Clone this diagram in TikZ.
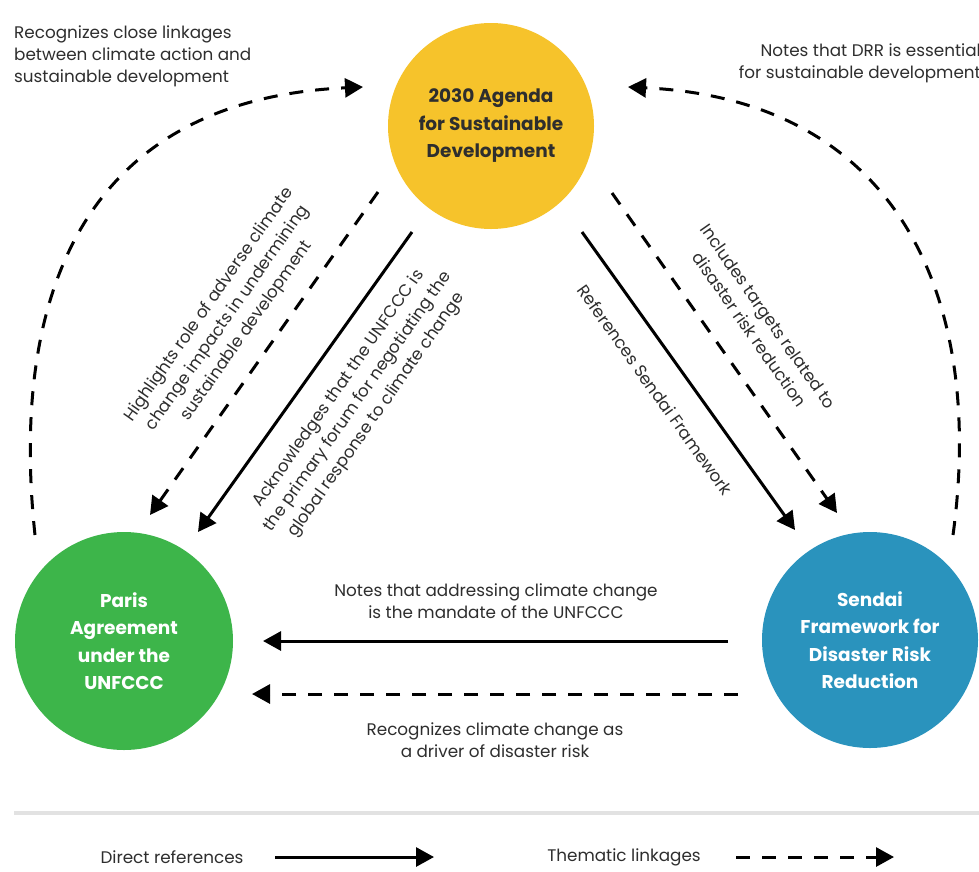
\documentclass[tikz,border=0pt]{standalone}
\usepackage{fontspec}
\setmainfont{Poppins}
\usetikzlibrary{arrows.meta}
\definecolor{agendaY}{HTML}{F6C32B}
\definecolor{parisG}{HTML}{3DB54A}
\definecolor{sendaiB}{HTML}{2A93BD}
\definecolor{txtgray}{HTML}{2E2E2E}
\definecolor{sepgray}{HTML}{E2E2E2}
\tikzset{
  circ/.style={circle, inner sep=0pt, align=center, font=\fontsize{18.5}{27.5}\selectfont\bfseries},
  lbl/.style={align=center, text=txtgray, inner sep=0pt, font=\fontsize{16.8}{21.8}\selectfont},
  rlbl/.style={lbl, font=\fontsize{16.8}{23}\selectfont},
  conn/.style={line width=3pt, -{Triangle[length=18pt,width=19pt]}},
  thematic/.style={conn, dash pattern=on 14pt off 12pt},
}
\begin{document}
\begin{tikzpicture}[x=1pt,y=-1pt]
\useasboundingbox (0,0) rectangle (979,871);
\fill[white] (0,0) rectangle (979,871);

% circles
\node[circ, fill=agendaY, text=txtgray, minimum size=206pt] (agenda) at (491,126) {2030 Agenda\\for Sustainable\\Development};
\node[circ, fill=parisG, text=white, minimum size=218pt] (paris) at (124,641) {Paris\\Agreement\\under the\\UNFCCC};
\node[circ, fill=sendaiB, text=white, minimum size=216pt] (sendai) at (870,640) {Sendai\\Framework for\\Disaster Risk\\Reduction};

% connector end points
\coordinate (arcLs) at (35,535);
\coordinate (arcLe) at (363,87);
\coordinate (arcRs) at (953,535);
\coordinate (arcRe) at (628,87);
\coordinate (dLs) at (378,192);
\coordinate (dLe) at (150,515);
\coordinate (sLs) at (412,232);
\coordinate (sLe) at (198,532);
\coordinate (sRs) at (582,232);
\coordinate (sRe) at (795,530);
\coordinate (dRs) at (612,193);
\coordinate (dRe) at (837,513);
\coordinate (hSs) at (728,641);
\coordinate (hSe) at (263,641);
\coordinate (hDs) at (738,694);
\coordinate (hDe) at (252,694);

% connectors
\draw[thematic] (arcLs) .. controls (10,300) and (80,100) .. (arcLe);
\draw[thematic] (arcRs) .. controls (985,300) and (900,100) .. (arcRe);
\draw[thematic] (dLs) -- (dLe);
\draw[conn] (sLs) -- (sLe);
\draw[conn] (sRs) -- (sRe);
\draw[thematic] (dRs) -- (dRe);
\draw[conn] (hSs) -- (hSe);
\draw[thematic] (hDs) -- (hDe);

% labels
\node[lbl, anchor=west, align=left] (tl) at (14,56) {Recognizes close linkages\\between climate action and\\sustainable development};
\node[lbl, anchor=east, align=right] (tr) at (981,63) {Notes that DRR is essential\\for sustainable development};
\node[rlbl, rotate=55] (lhl) at (228,318) {Highlights role of adverse climate\\change impacts in undermining\\sustainable development};
\node[rlbl, rotate=55] (lack) at (358,402) {Acknowledges that the UNFCCC is\\the primary forum for negotiating the\\global response to climate change};
\node[rlbl, rotate=-55] (linc) at (759,323) {Includes targets related to\\disaster risk reduction};
\node[rlbl, rotate=-54.5] (lref) at (655,390) {References Sendai Framework};
\node[lbl] (lmand) at (496,601) {Notes that addressing climate change\\is the mandate of the UNFCCC};
\node[lbl] (ldrv) at (495,740) {Recognizes climate change as\\a driver of disaster risk};

% separator and legend
\coordinate (sepA) at (14,813);
\coordinate (sepB) at (979,813);
\draw[sepgray, line width=4pt] (sepA) -- (sepB);
\node[lbl] (legD) at (172,857) {Direct references};
\coordinate (legDs) at (275,857);
\coordinate (legDe) at (434,857);
\draw[conn] (legDs) -- (legDe);
\node[lbl] (legT) at (624,857) {Thematic linkages};
\coordinate (legTs) at (736,857);
\coordinate (legTe) at (894,857);
\draw[thematic] (legTs) -- (legTe);
\end{tikzpicture}
\end{document}
